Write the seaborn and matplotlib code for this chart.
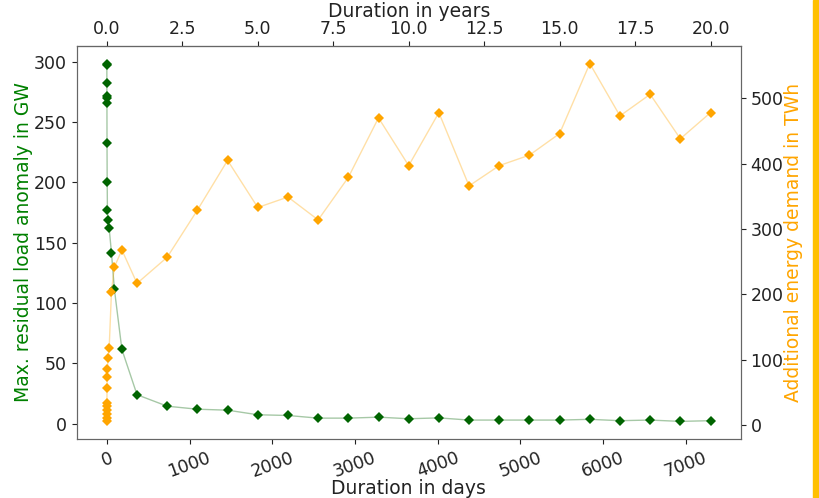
import numpy as np
import pandas as pd
import matplotlib
matplotlib.use("Agg")
import matplotlib.pyplot as plt
from matplotlib.patches import Rectangle
import seaborn as sns

# durations: short ones in days, then whole years
short_days = [1/24, 2/24, 4/24, 6/24, 12/24, 1, 2, 4, 7, 14, 28, 56, 91, 182]
years = list(range(1, 21))

max_load_short = [298.5, 297, 282.5, 272, 270, 266, 232.5, 200.5, 177, 169, 162,
                  141.5, 111.5, 61.5]
max_load_years = [24, 14.5, 12, 11.2, 7.4, 6.8, 4.6, 4.6, 5.4, 4.1,
                  4.8, 3, 3, 3, 3, 3.6, 2.5, 3, 1.9, 2.5]

energy_short = [6, 11.7, 17.4, 23, 29, 34.5, 57, 73.5, 86, 103, 118,
                204.5, 242, 268]
energy_years = [217, 257, 329, 405, 333, 349, 314, 379, 470, 397,
                478, 366, 397, 413, 446, 553, 473, 506, 438, 478]

df = pd.DataFrame({
    "days": short_days + [y * 365 for y in years],
    "load": max_load_short + max_load_years,
    "energy": energy_short + energy_years,
})

sns.set_style("ticks")
plt.rcParams["font.family"] = ["DejaVu Sans"]

fig = plt.figure(figsize=(8.2, 4.98), dpi=100)
ax = fig.add_axes([0.0935, 0.1179, 0.8098, 0.7904])
ax2 = ax.twinx()

sns.lineplot(data=df, x="days", y="load", ax=ax, color="darkgreen", lw=1,
             marker="D", markersize=5.5, markeredgewidth=0, sort=False)
for ln in ax.lines:
    ln.set_color((0, 0.39, 0, 0.35))
    ln.set_markerfacecolor("darkgreen")
    ln.set_markeredgecolor("darkgreen")

sns.lineplot(data=df, x="days", y="energy", ax=ax2, color="orange", lw=1,
             marker="D", markersize=5.5, markeredgewidth=0, sort=False)
for ln in ax2.lines:
    ln.set_color((1, 0.65, 0, 0.35))
    ln.set_markerfacecolor("orange")
    ln.set_markeredgecolor("orange")

ax.set_xlabel("Duration in days", fontsize=13.5, color="#222222", labelpad=-1.5)
ax.set_ylabel("Max. residual load anomaly in GW", fontsize=13.5, color="green",
              labelpad=0.5)
ax2.set_ylabel("Additional energy demand in TWh", fontsize=13.5, color="orange",
               labelpad=0.5)

ax.tick_params(axis="both", labelsize=12.5, colors="#222222")
ax2.tick_params(axis="y", labelsize=12.5, colors="#222222")
for lbl in ax.get_xticklabels():
    lbl.set_rotation(20)

secax = ax.secondary_xaxis("top", functions=(lambda d: d / 365, lambda y: y * 365))
secax.set_xlabel("Duration in years", fontsize=13.5, color="#222222", labelpad=2.5)
secax.tick_params(labelsize=12.5, colors="#222222", pad=2)

for a in (ax, ax2):
    for sp in a.spines.values():
        sp.set_color("#666666")
        sp.set_visible(True)
for sp in secax.spines.values():
    sp.set_color("#666666")

# slide border on the right
fig.patches.append(Rectangle((813 / 820, 0), 7 / 820, 1, transform=fig.transFigure,
                             color="#FFC000", zorder=0))

fig.savefig("out.png", dpi=100)
